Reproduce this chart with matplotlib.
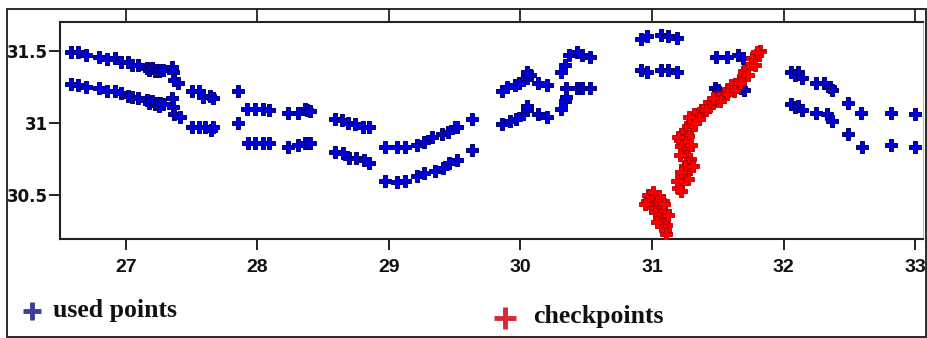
import numpy as np
import matplotlib
matplotlib.use("Agg")
import matplotlib.pyplot as plt
from matplotlib.patches import Rectangle

# track positions (lon, lat) of the points used for the fit
used_upper_x = [26.58, 26.64, 26.70, 26.80, 26.86, 26.92, 26.96, 27.02, 27.05, 27.09,
                27.16, 27.18, 27.20, 27.22, 27.23, 27.25, 27.26, 27.28, 27.35, 27.36,
                27.37, 27.40, 27.50, 27.56, 27.59, 27.64, 27.66, 27.85, 27.92, 27.98,
                28.04, 28.09, 28.23, 28.31, 28.36, 28.38, 28.40,
                28.59, 28.64, 28.69, 28.74, 28.80, 28.85, 28.97, 29.06, 29.12,
                29.21, 29.27, 29.33, 29.40, 29.45, 29.50, 29.52, 29.63,
                29.86, 29.90, 29.96, 29.99, 30.02, 30.05, 30.07, 30.05, 30.13, 30.20,
                30.31, 30.34, 30.37, 30.43, 30.47, 30.53,
                30.92, 30.96, 31.07, 31.12, 31.19,
                31.49, 31.57, 31.65, 31.69,
                32.06, 32.09, 32.11, 32.14, 32.25, 32.31, 32.35, 32.37, 32.49, 32.59,
                32.82, 33.00]
used_upper_y = [31.49, 31.49, 31.47, 31.46, 31.44, 31.45, 31.42, 31.42, 31.40, 31.40,
                31.38, 31.37, 31.38, 31.36, 31.37, 31.36, 31.37, 31.37, 31.39, 31.35,
                31.30, 31.28, 31.22, 31.22, 31.18, 31.19, 31.17, 31.22, 31.10, 31.10,
                31.10, 31.09, 31.07, 31.07, 31.10, 31.09, 31.08,
                31.03, 31.02, 31.00, 30.99, 30.97, 30.97, 30.83, 30.83, 30.83,
                30.85, 30.87, 30.90, 30.92, 30.94, 30.97, 30.97, 31.03,
                31.22, 31.25, 31.26, 31.28, 31.30, 31.31, 31.33, 31.35, 31.28, 31.26,
                31.35, 31.40, 31.47, 31.49, 31.47, 31.46,
                31.58, 31.60, 31.61, 31.60, 31.59,
                31.46, 31.46, 31.47, 31.45,
                31.35, 31.33, 31.35, 31.31, 31.28, 31.28, 31.25, 31.23, 31.14, 31.07,
                31.07, 31.06]

used_lower_x = [26.58, 26.64, 26.70, 26.80, 26.86, 26.92, 26.96, 27.02, 27.05, 27.09,
                27.16, 27.18, 27.20, 27.22, 27.23, 27.25, 27.26, 27.28, 27.35, 27.36,
                27.37, 27.41, 27.50, 27.56, 27.60, 27.65, 27.66, 27.85, 27.93, 27.98,
                28.04, 28.09, 28.23, 28.31, 28.36, 28.38, 28.40,
                28.59, 28.65, 28.70, 28.75, 28.81, 28.85, 28.97, 29.06, 29.12,
                29.21, 29.27, 29.35, 29.41, 29.46, 29.52, 29.63,
                29.86, 29.92, 29.97, 30.02, 30.05, 30.05, 30.13, 30.20,
                30.31, 30.34, 30.35, 30.35, 30.43, 30.47, 30.53,
                30.92, 30.96, 31.07, 31.12, 31.19,
                31.48, 31.50, 31.68, 31.70,
                32.06, 32.09, 32.11, 32.14, 32.25, 32.33, 32.37, 32.49, 32.60,
                32.82, 33.00]
used_lower_y = [31.27, 31.26, 31.25, 31.24, 31.22, 31.22, 31.21, 31.19, 31.18, 31.17,
                31.16, 31.14, 31.15, 31.13, 31.14, 31.12, 31.14, 31.13, 31.17, 31.11,
                31.06, 31.04, 30.97, 30.97, 30.97, 30.95, 30.97, 31.00, 30.86, 30.86,
                30.86, 30.86, 30.83, 30.85, 30.86, 30.86, 30.86,
                30.80, 30.79, 30.76, 30.76, 30.74, 30.72, 30.60, 30.59, 30.60,
                30.63, 30.65, 30.67, 30.69, 30.72, 30.74, 30.81,
                30.99, 31.01, 31.03, 31.06, 31.09, 31.12, 31.06, 31.04,
                31.10, 31.15, 31.18, 31.24, 31.24, 31.24, 31.24,
                31.37, 31.35, 31.37, 31.37, 31.35,
                31.24, 31.23, 31.24, 31.23,
                31.13, 31.11, 31.12, 31.09, 31.07, 31.06, 31.01, 30.92, 30.83,
                30.85, 30.83]

# independent checkpoints
check_x = [31.82, 31.80, 31.78, 31.76, 31.75, 31.72, 31.70, 31.69, 31.66, 31.64,
           31.62, 31.60, 31.58, 31.55, 31.53, 31.50, 31.48, 31.45, 31.43, 31.40,
           31.38, 31.36, 31.34, 31.32, 31.31, 31.29, 31.27, 31.30, 31.25, 31.23,
           31.27, 31.21, 31.25, 31.22, 31.27, 31.24, 31.26, 31.29, 31.27, 31.25,
           31.28, 31.26, 31.24, 31.27, 31.23, 31.20, 31.22,
           31.80, 31.78, 31.73, 31.67, 31.62, 31.57, 31.52, 31.46, 31.41, 31.36,
           31.33, 31.28, 31.20, 31.30, 31.21, 31.31, 31.22, 31.19,
           30.97, 31.01, 31.05, 30.96, 31.00, 31.04, 31.08, 30.99, 31.03, 31.07,
           31.02, 31.06, 31.10, 31.05, 31.09, 31.08, 31.11, 31.10, 31.11,
           30.95, 31.09, 31.12, 31.04]
check_y = [31.50, 31.47, 31.44, 31.45, 31.41, 31.38, 31.36, 31.32, 31.30, 31.27,
           31.25, 31.26, 31.22, 31.21, 31.18, 31.17, 31.15, 31.14, 31.11, 31.12,
           31.09, 31.07, 31.05, 31.06, 31.02, 31.00, 30.98, 30.96, 30.95, 30.92,
           30.91, 30.88, 30.87, 30.84, 30.82, 30.80, 30.77, 30.75, 30.72, 30.70,
           30.68, 30.65, 30.62, 30.61, 30.58, 30.55, 30.53,
           31.49, 31.40, 31.33, 31.28, 31.22, 31.20, 31.15, 31.17, 31.09, 31.03,
           31.00, 31.04, 30.90, 30.85, 30.78, 30.70, 30.66, 30.60,
           30.50, 30.52, 30.49, 30.46, 30.46, 30.45, 30.46, 30.42, 30.41, 30.42,
           30.38, 30.37, 30.39, 30.34, 30.33, 30.30, 30.29, 30.26, 30.23,
           30.44, 30.44, 30.36, 30.31]

x_ticks = [27, 28, 29, 30, 31, 32, 33]
y_ticks = [30.5, 31, 31.5]
y_labels = ["30.5", "31", "31.5"]

W, H = 928, 338
fig = plt.figure(figsize=(W / 100, H / 100), dpi=100)
fig.patch.set_facecolor("white")

# outer frame
fig.add_artist(Rectangle((7 / W, 1.5 / H), 919.5 / W, (H - 9 - 1.5) / H,
                         transform=fig.transFigure, fill=False,
                         edgecolor="#2a2a2a", linewidth=1.4))

ax = fig.add_axes([60 / W, (H - 239) / H, 863 / W, 217 / H])
ax.set_xlim(26.5, 33.06)
ax.set_ylim(30.195, 31.70)

ax.plot(used_upper_x, used_upper_y, linestyle="none", marker="P", ms=8.4,
        mfc="#0000dd", mec="#000070", mew=0.7, zorder=3)
ax.plot(used_lower_x, used_lower_y, linestyle="none", marker="P", ms=8.4,
        mfc="#0000dd", mec="#000070", mew=0.7, zorder=3)
ax.plot(check_x, check_y, linestyle="none", marker="P", ms=8.4,
        mfc="#ff0000", mec="#b00000", mew=0.6, zorder=4)

for side in ["left", "top", "bottom"]:
    ax.spines[side].set_linewidth(1.5)
    ax.spines[side].set_color("#222222")
ax.spines["right"].set_linewidth(0.8)
ax.spines["right"].set_color("#bbbbbb")

ax.set_xticks(x_ticks)
ax.set_xticklabels([str(t) for t in x_ticks],
                   family=["Liberation Sans Narrow", "Liberation Sans"],
                   fontweight="bold", fontsize=14)
ax.set_yticks(y_ticks)
ax.set_yticklabels(y_labels, family="DejaVu Sans", fontweight="bold", fontsize=12)
ax.tick_params(axis="x", direction="out", length=8, width=1.3, pad=6.5, colors="#111111")
ax.tick_params(axis="y", direction="out", length=8, width=1.3, pad=1, colors="#111111")

# ticks in the strip above the plot
for t in x_ticks:
    ax.plot([t, t], [1.0, 1.0 + 13 / 217], transform=ax.get_xaxis_transform(),
            color="#222222", linewidth=1.3, clip_on=False)

# legend entries below the axis
lax = fig.add_axes([0, 0, 1, 1], facecolor="none")
lax.set_xlim(0, W)
lax.set_ylim(H, 0)
lax.axis("off")
lax.plot([32], [311], marker="+", ms=13, mew=3.5, color="#3b3f9c")
lax.text(53, 317, "used points", family="Liberation Serif", fontweight="bold",
         fontsize=18.5, va="baseline", ha="left", color="#111111")
lax.plot([505], [318], marker="+", ms=16, mew=3.5, color="#d42a35")
lax.text(533, 323, "checkpoints", family="Liberation Serif", fontweight="bold",
         fontsize=18.5, va="baseline", ha="left", color="#111111")

fig.savefig("out.png", dpi=100)
